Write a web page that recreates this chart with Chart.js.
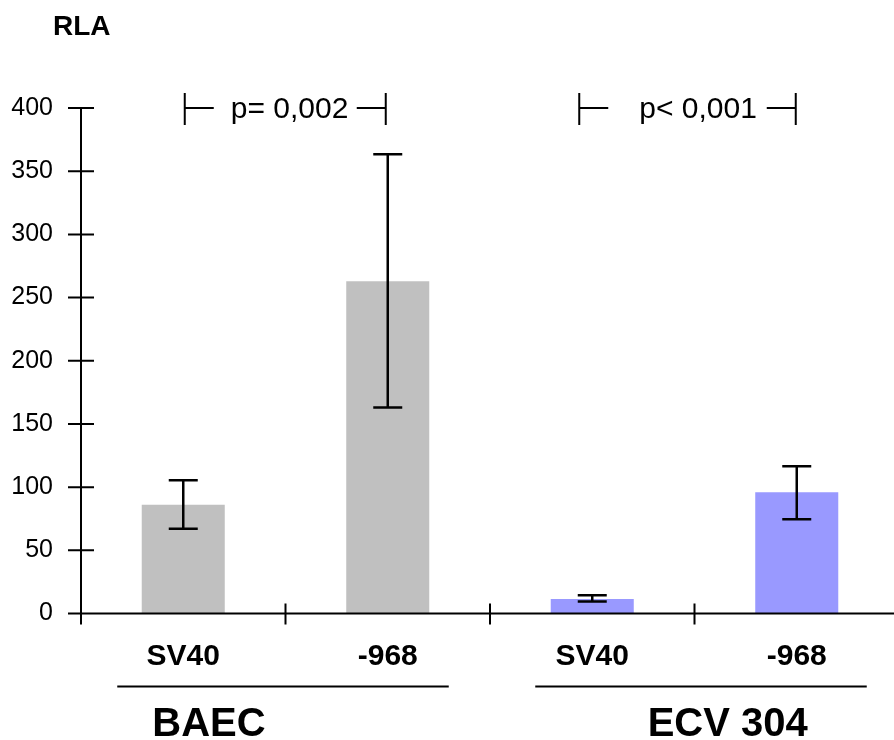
<!DOCTYPE html>
<html>
<head>
<meta charset="utf-8">
<script src="https://cdn.jsdelivr.net/npm/chart.js@4"></script>
<style>
  html, body { margin: 0; padding: 0; background: #fff; overflow: hidden; }
  #wrap { width: 900px; height: 740px; }
</style>
</head>
<body>
<div id="wrap"><canvas id="c" width="900" height="740"></canvas></div>
<script>
// ---- data ----
const categories = ['SV40', '-968', 'SV40', '-968'];
const values = [86, 263, 11.5, 96];
const errLow = [67, 163, 9.5, 74.5];
const errHigh = [105.5, 363.5, 14.5, 116.5];
const groupLabels = ['BAEC', 'ECV 304'];
const groupSpans = [[0, 1], [2, 3]];
const pLabels = ['p= 0,002', 'p< 0,001'];
const pPairs = [[0, 1], [2, 3]];
const yTitle = 'RLA';
const yMin = 0, yMax = 400, yStep = 50;

// ---- styling ----
const barColors = ['#c0c0c0', '#c0c0c0', '#9999ff', '#9999ff'];
const FONT = 'Arial, "Liberation Sans", sans-serif';
// per-group layout offsets (pixels relative to category centres)
const groupStyle = [
  { lineL: -66, lineR: 61, textX: -31, textAlign: 'left', anchor: 0 },
  { lineL: -57, lineR: 70, textX: 11, textAlign: 'right', anchor: 1 }
];
const pStyle = [
  { left: 1.5, right: -2, textX: 46 },
  { left: -13, right: -1, textX: 60 }
];

const decorPlugin = {
  id: 'decor',
  afterDatasetsDraw(chart) {
    const ctx = chart.ctx;
    const xs = chart.scales.x, ys = chart.scales.y;
    const area = chart.chartArea;
    const meta = chart.getDatasetMeta(0);
    const catW = xs.getPixelForValue(1) - xs.getPixelForValue(0);
    ctx.save();
    ctx.strokeStyle = '#000';
    ctx.fillStyle = '#000';
    ctx.lineCap = 'butt';

    // axes
    ctx.lineWidth = 2;
    ctx.beginPath();
    ctx.moveTo(area.left, area.top);
    ctx.lineTo(area.left, area.bottom + 11);
    ctx.moveTo(area.left - 13, area.bottom);
    ctx.lineTo(area.right, area.bottom);
    ys.ticks.forEach(t => {
      const py = ys.getPixelForValue(t.value);
      ctx.moveTo(area.left - 13, py);
      ctx.lineTo(area.left + 13, py);
    });
    for (let k = 0; k < categories.length; k++) {
      const px = xs.getPixelForValue(k) - catW / 2;
      ctx.moveTo(px, area.bottom - 10);
      ctx.lineTo(px, area.bottom + 11);
    }
    ctx.stroke();

    // error bars
    ctx.lineWidth = 2.5;
    ctx.beginPath();
    meta.data.forEach((bar, i) => {
      const x = bar.x;
      const yh = ys.getPixelForValue(errHigh[i]);
      const yl = ys.getPixelForValue(errLow[i]);
      ctx.moveTo(x, yh); ctx.lineTo(x, yl);
      ctx.moveTo(x - 14.5, yh); ctx.lineTo(x + 14.5, yh);
      ctx.moveTo(x - 14.5, yl); ctx.lineTo(x + 14.5, yl);
    });
    ctx.stroke();

    // p-value brackets at top
    const yb = ys.getPixelForValue(yMax);
    ctx.font = '30px ' + FONT;
    ctx.textBaseline = 'middle';
    ctx.textAlign = 'left';
    pPairs.forEach((pair, i) => {
      const st = pStyle[i];
      const l = meta.data[pair[0]].x + st.left;
      const r = meta.data[pair[1]].x + st.right;
      const tx = l + st.textX;
      const tw = ctx.measureText(pLabels[i]).width;
      ctx.lineWidth = 2;
      ctx.beginPath();
      ctx.moveTo(l, yb - 15); ctx.lineTo(l, yb + 17);
      ctx.moveTo(l, yb); ctx.lineTo(l + 29, yb);
      ctx.moveTo(r, yb - 15); ctx.lineTo(r, yb + 17);
      ctx.moveTo(r, yb); ctx.lineTo(r - 29, yb);
      ctx.stroke();
      ctx.fillText(pLabels[i], tx, yb + 2);
    });

    // group underlines + labels
    const lineY = area.bottom + 73;
    groupSpans.forEach((sp, i) => {
      const st = groupStyle[i];
      const a = meta.data[sp[0]].x, b = meta.data[sp[1]].x;
      ctx.lineWidth = 2;
      ctx.beginPath();
      ctx.moveTo(a + st.lineL, lineY);
      ctx.lineTo(b + st.lineR, lineY);
      ctx.stroke();
      ctx.font = 'bold 40px ' + FONT;
      ctx.textAlign = st.textAlign;
      ctx.textBaseline = 'alphabetic';
      const ax = meta.data[sp[st.anchor]].x + st.textX;
      ctx.fillText(groupLabels[i], ax, area.bottom + 122);
    });

    // y title
    ctx.font = 'bold 28px ' + FONT;
    ctx.textAlign = 'left';
    ctx.textBaseline = 'alphabetic';
    ctx.fillText(yTitle, 53, 35);
    ctx.restore();
  }
};

new Chart(document.getElementById('c'), {
  type: 'bar',
  data: {
    labels: categories,
    datasets: [{
      data: values,
      backgroundColor: barColors,
      borderWidth: 0,
      categoryPercentage: 1,
      barPercentage: 0.406
    }]
  },
  options: {
    responsive: false,
    animation: false,
    devicePixelRatio: 1,
    layout: { padding: { top: 108, left: 0, right: 1, bottom: 0 } },
    plugins: { legend: { display: false }, tooltip: { enabled: false }, title: { display: false } },
    scales: {
      y: {
        min: yMin, max: yMax,
        ticks: { stepSize: yStep, color: '#000', font: { family: FONT, size: 25 }, padding: 28 },
        grid: { display: false, drawTicks: false },
        border: { display: false },
        afterFit(s) { s.width = 81; }
      },
      x: {
        offset: true,
        ticks: { color: '#000', font: { family: FONT, size: 30, weight: 'bold' }, padding: 25, maxRotation: 0, autoSkip: false },
        grid: { display: false, drawTicks: false },
        border: { display: false },
        afterFit(s) { s.height = 126.5; }
      }
    }
  },
  plugins: [decorPlugin]
});
</script>
</body>
</html>
